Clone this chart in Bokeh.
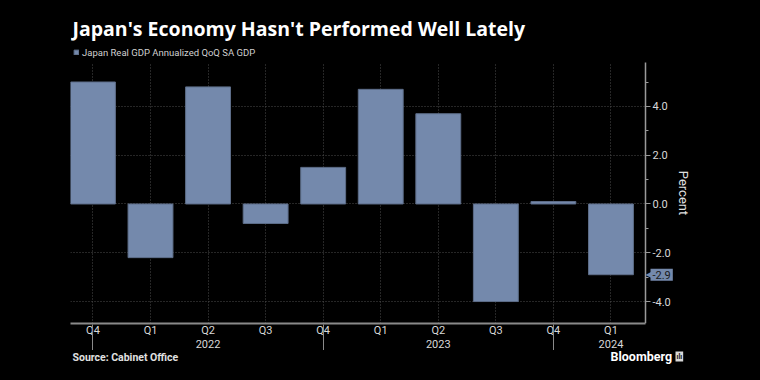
import math
from bokeh.plotting import figure
from bokeh.layouts import column
from bokeh.models import (FixedTicker, LinearAxis, Label, Legend, LegendItem, Grid,
                          NumeralTickFormatter, Range1d, ColumnDataSource)
from bokeh.embed import file_html
from bokeh.resources import INLINE

# ---- data ----
quarters = ["Q4", "Q1", "Q2", "Q3", "Q4", "Q1", "Q2", "Q3", "Q4", "Q1"]
years = ["2021", "2022", "2022", "2022", "2022", "2023", "2023", "2023", "2023", "2024"]
gdp = [5.0, -2.2, 4.8, -0.8, 1.5, 4.7, 3.7, -4.0, 0.1, -2.9]
y_ticks = [-4, -2, 0, 2, 4]
y_minor = [-5, -3, -1, 1, 3, 5]
series_name = "Japan Real GDP Annualized QoQ SA GDP"
title_text = "Japan's Economy Hasn't Performed Well Lately"
source_text = "Source: Cabinet Office"
brand_text = "Bloomberg"
axis_title = "Percent"

BAR = "#7489ac"
FONT = "Roboto"
TXT = "#d8d8d8"

# ---- layout geometry (pixels) ----
W, H_MAIN, H_FOOT = 760, 350, 30
PLOT_L, PLOT_R, PLOT_T, PLOT_B = 70, 645, 62, 323   # value area
FRAME_R = 700                                       # frame extends right for tag and axis title
x_lo, x_hi = -0.39, 9.6
y_lo, y_hi = -4.9, 5.8
ppu_y = (PLOT_B - PLOT_T) / (y_hi - y_lo)
ppu_x = (PLOT_R - PLOT_L) / (x_hi - x_lo)
y_top = y_hi + PLOT_T / ppu_y
x_right = x_hi + (FRAME_R - PLOT_R) / ppu_x

idx = list(range(len(gdp)))
src = ColumnDataSource(dict(x=idx, top=gdp, q=quarters, yr=years))

year_ticks, year_over = [], {}
for y in sorted(set(years)):
    ids = [i for i in idx if years[i] == y]
    qs = [quarters[i] for i in ids]
    if "Q1" not in qs:
        continue
    pos = ids[qs.index("Q2")] if "Q2" in qs else ids[0]
    year_ticks.append(pos)
    year_over[pos] = y
sep_ticks = [i for i in idx if quarters[i] == "Q4"]

p = figure(width=W, height=H_MAIN, output_backend="svg", toolbar_location=None,
           title=None,
           x_range=Range1d(x_lo, x_right), y_range=Range1d(y_lo, y_top),
           y_axis_location="right",
           min_border_left=PLOT_L, min_border_right=W - FRAME_R, min_border_top=0,
           min_border_bottom=H_MAIN - PLOT_B,
           background_fill_color="black", border_fill_color="black",
           outline_line_color=None)

r = p.vbar(x="x", top="top", bottom=0, width=0.78, source=src,
           fill_color=BAR, line_color="#5d6d88", line_width=1)

# x axis: quarters
xa = p.xaxis[0]
xa.ticker = FixedTicker(ticks=idx, minor_ticks=[])
xa.major_label_overrides = {i: q for i, q in zip(idx, quarters)}
xa.bounds = (x_lo, x_hi)
xa.major_tick_out = 0
xa.major_tick_in = 0
xa.minor_tick_in = 0
xa.minor_tick_out = 0
xa.axis_line_color = "#8a8a8a"
xa.axis_line_width = 2
xa.major_label_text_color = TXT
xa.major_label_text_font = FONT
xa.major_label_text_font_size = "11px"
xa.major_label_standoff = 0

# x axis: years
xa2 = LinearAxis(ticker=FixedTicker(ticks=year_ticks, minor_ticks=[]),
                 major_label_overrides=year_over, bounds=(x_lo, x_hi))
xa2.major_tick_out = 0
xa2.major_tick_in = 0
xa2.minor_tick_out = 0
xa2.minor_tick_in = 0
xa2.axis_line_color = None
xa2.major_label_text_color = TXT
xa2.major_label_text_font = FONT
xa2.major_label_text_font_size = "11px"
xa2.major_label_standoff = 0
p.add_layout(xa2, "below")

# x axis: year separators (minor ticks pointing up to the main axis line)
xa3 = LinearAxis(ticker=FixedTicker(ticks=[], minor_ticks=sep_ticks), bounds=(x_lo, x_hi))
xa3.major_tick_out = 0
xa3.major_tick_in = 0
xa3.minor_tick_out = 0
xa3.minor_tick_in = 26
xa3.minor_tick_line_color = "#8a8a8a"
xa3.axis_line_color = None
xa3.major_label_text_font_size = "0px"
xa3.major_label_standoff = 0
p.add_layout(xa3, "below")

# y axis (right, pinned to the value-area edge)
ya = p.yaxis[0]
ya.fixed_location = x_hi
ya.bounds = (y_lo, y_hi)
ya.ticker = FixedTicker(ticks=y_ticks, minor_ticks=y_minor)
ya.formatter = NumeralTickFormatter(format="0.0")
ya.axis_line_color = "#9a9a9a"
ya.axis_line_width = 1.5
ya.major_tick_line_color = "#9a9a9a"
ya.minor_tick_line_color = "#9a9a9a"
ya.major_tick_out = 5
ya.major_tick_in = 0
ya.minor_tick_out = 3
ya.minor_tick_in = 0
ya.major_label_text_color = TXT
ya.major_label_text_font = FONT
ya.major_label_text_font_size = "11px"
ya.major_label_standoff = 2

# y axis title, drawn beside the tick labels (reads top to bottom)
p.add_layout(Label(x=x_hi, x_offset=38, y=(y_lo + y_hi) / 2, text=axis_title,
                   angle=-math.pi / 2, text_align="center", text_baseline="middle",
                   text_color="#e0e0e0", text_font=FONT, text_font_size="13px"))

# grids
p.xgrid.ticker = FixedTicker(ticks=idx)
p.ygrid.ticker = FixedTicker(ticks=y_ticks)
has_cross = "cross_bounds" in Grid.properties()
for g, cb in ((p.xgrid[0], (y_lo, y_hi)), (p.ygrid[0], (x_lo, x_hi))):
    g.grid_line_color = "#4d4d4d"
    g.grid_line_dash = "1 2"
    g.grid_line_width = 1
    g.level = "underlay"
    if has_cross:
        g.cross_bounds = cb

# legend
legend = Legend(items=[LegendItem(label=series_name, renderers=[r])],
                location=(3, PLOT_B - 58), orientation="horizontal",
                label_text_color="#d0d0d0", label_text_font=FONT,
                label_text_font_size="9.5px", label_height=12, label_standoff=3,
                glyph_width=6, glyph_height=6, padding=0, margin=0, spacing=0,
                background_fill_alpha=0, border_line_color=None)
p.add_layout(legend)

# title
p.add_layout(Label(x=2, y=PLOT_B - 28, x_units="screen", y_units="screen", text=title_text,
                   text_color="white", text_font="Open Sans", text_font_style="bold",
                   text_font_size="19.5px", text_baseline="middle"))

# last value tag on the right axis
last = gdp[-1]
p.add_layout(Label(x=x_hi, y=last, x_offset=0, text="\u25c0",
                   text_color=BAR, text_font="DejaVu Sans", text_font_size="8px",
                   text_baseline="middle"))
p.add_layout(Label(x=x_hi, y=last, x_offset=5, text=f"{last:.1f}",
                   text_color="#1a1a1a", text_font=FONT, text_font_size="11px",
                   text_baseline="middle", background_fill_color=BAR, padding=2))

# footer (its frame is aligned with the main frame by the column layout)
f = figure(width=W, height=H_FOOT, output_backend="svg", toolbar_location=None,
           x_range=Range1d(PLOT_L, FRAME_R), y_range=Range1d(H_FOOT, 0),
           x_axis_type=None, y_axis_type=None, min_border=0,
           min_border_left=PLOT_L, min_border_right=W - FRAME_R,
           background_fill_color="black", border_fill_color="black",
           outline_line_color=None)
f.grid.visible = False
f.add_layout(Label(x=72, y=7, text=source_text, text_color="#e0e0e0", text_font=FONT,
                   text_font_style="bold", text_font_size="10.5px", text_baseline="middle"))
f.add_layout(Label(x=610, y=6, text=brand_text, text_color="white", text_font=FONT,
                   text_font_style="bold", text_font_size="12.5px", text_baseline="middle"))
f.add_layout(Label(x=675, y=6, text="\u0131l\u0131", text_color="#111111",
                   text_font=FONT, text_font_style="bold", text_font_size="7px",
                   text_baseline="middle", background_fill_color="#d8d8d8", padding=1))

layout = column(p, f, spacing=0)

template = """
{% block postamble %}
<style>html, body { background: #000000; }</style>
{% endblock %}
"""

open("out.html", "w").write(file_html(layout, INLINE, title="Japan GDP", template=template))
